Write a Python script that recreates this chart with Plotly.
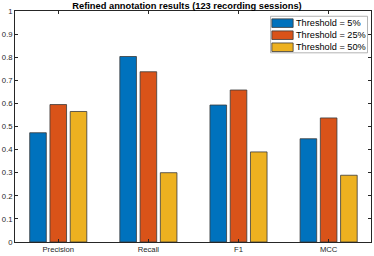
import plotly.graph_objects as go

categories = ["Precision", "Recall", "F1", "MCC"]
series_names = ["Threshold = 5%", "Threshold = 25%", "Threshold = 50%"]
thr5 = [0.473, 0.803, 0.593, 0.447]
thr25 = [0.595, 0.737, 0.658, 0.537]
thr50 = [0.565, 0.300, 0.390, 0.289]
colors = ["#0072BD", "#D95319", "#EDB120"]
y_ticks = [0, 0.1, 0.2, 0.3, 0.4, 0.5, 0.6, 0.7, 0.8, 0.9, 1]
y_tick_labels = ["0", "0.1", "0.2", "0.3", "0.4", "0.5", "0.6", "0.7", "0.8", "0.9", "1"]

W, H = 374, 256
ML, MR, MT, MB = 14, 2, 11, 13
PW, PH = W - ML - MR, H - MT - MB


def px_x(px):
    return (px - ML) / PW


def px_y(py):
    return (H - MB - py) / PH


fig = go.Figure()
for name, vals, col in zip(series_names, [thr5, thr25, thr50], colors):
    fig.add_trace(go.Bar(
        x=categories, y=vals, name=name, showlegend=False,
        marker=dict(color=col, line=dict(color="#3a3a3a", width=0.8)),
    ))

# Custom compact legend (MATLAB style)
shapes = [dict(type="rect", xref="paper", yref="paper",
               x0=px_x(271), x1=px_x(368.5), y0=px_y(53), y1=px_y(16.3),
               fillcolor="white", line=dict(color="#a0a0a0", width=0.8), layer="above")]
annotations = []
row_centers = [23.2, 35.3, 47.4]
for name, col, rc in zip(series_names, colors, row_centers):
    shapes.append(dict(type="rect", xref="paper", yref="paper",
                       x0=px_x(272.3), x1=px_x(293.7), y0=px_y(rc + 4.3), y1=px_y(rc - 4.3),
                       fillcolor=col, line=dict(color="#3a3a3a", width=0.8), layer="above"))
    annotations.append(dict(text=name, xref="paper", yref="paper",
                            x=px_x(295), y=px_y(rc), xanchor="left", yanchor="middle",
                            showarrow=False, font=dict(size=9.2, color="black")))

axis_color = "#262626"
fig.update_layout(
    width=W, height=H,
    margin=dict(l=ML, r=MR, t=MT, b=MB),
    paper_bgcolor="white", plot_bgcolor="white",
    barmode="group", bargap=0.326, bargroupgap=0.18,
    font=dict(family="Liberation Sans, Arial, sans-serif", size=7.7, color=axis_color),
    title=dict(text="<b>Refined annotation results (123 recording sessions)</b>",
               x=0.5, xanchor="center", y=1 - 5.5 / H, yanchor="middle",
               font=dict(size=9.3, color="black")),
    shapes=shapes,
    annotations=annotations,
    showlegend=False,
)
fig.update_xaxes(
    showline=True, linecolor=axis_color, linewidth=0.8, mirror="ticks",
    ticks="inside", ticklen=3, tickcolor=axis_color,
    range=[-0.48, 3.47], showgrid=False, tickfont=dict(size=7.7),
)
fig.update_yaxes(
    showline=True, linecolor=axis_color, linewidth=0.8, mirror="ticks",
    ticks="inside", ticklen=3, tickcolor=axis_color,
    range=[0, 1], tickvals=y_ticks, ticktext=y_tick_labels,
    showgrid=False, zeroline=False, tickfont=dict(size=7.7),
)
fig.write_html("out.html", config={"displayModeBar": False},
               post_script="document.body.style.margin='0';")
